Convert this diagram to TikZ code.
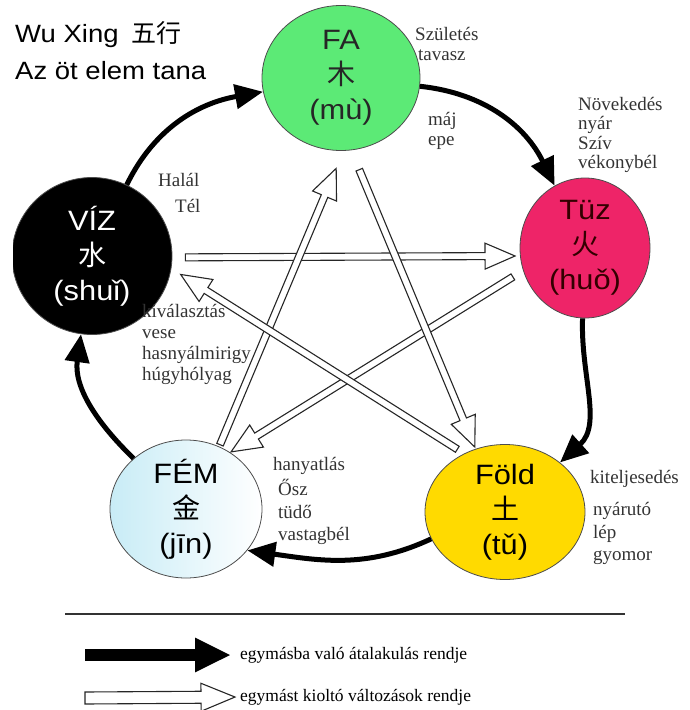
\documentclass[tikz,border=0pt]{standalone}
\usepackage{fontspec}
\setmainfont{Liberation Serif}
\setsansfont{Liberation Sans}[FakeStretch=1.1]
\newfontfamily\cjk{Noto Sans CJK SC}
\usetikzlibrary{shapes.geometric,arrows.meta,calc}

\definecolor{fagreen}{RGB}{92,234,118}
\definecolor{tuzpink}{RGB}{238,36,104}
\definecolor{foldyellow}{RGB}{255,218,0}
\definecolor{femblue}{RGB}{200,236,246}

% hollow arrow (kiolto valtozasok)
\newcommand{\kshaft}{3.5pt}
\newcommand{\khead}{13pt}
\newcommand{\klen}{30pt}
\newcommand{\kioltas}[4]{%
  \coordinate (ka) at ($(#1)!#3!(#2)$);
  \coordinate (kb) at ($(#2)!#4!(#1)$);
  \coordinate (kh) at ($(kb)!\klen!(ka)$);
  \draw[hollow] ($(ka)!\kshaft!90:(kb)$) -- ($(kh)!\kshaft!90:(kb)$)
    -- ($(kh)!\khead!90:(kb)$) -- (kb) -- ($(kh)!\khead!-90:(kb)$)
    -- ($(kh)!\kshaft!-90:(kb)$) -- ($(ka)!\kshaft!-90:(kb)$) -- cycle;
}

\begin{document}
\begin{tikzpicture}
    \tikzset{x=1pt,y=1pt,
      element/.style={ellipse,draw=black!70,line width=0.8pt,inner sep=-12pt,align=center,
        font=\sffamily\fontsize{28}{35}\selectfont},
      lbl/.style={anchor=base west,inner sep=0pt,font=\fontsize{19}{20}\selectfont,text=black!80},
      gen/.style={line width=5pt,-{Triangle[length=28pt,width=24pt]}},
      hollow/.style={draw=black!85,fill=white,line width=1.1pt,line join=miter}}
    \useasboundingbox (0,0) rectangle (689,-710);

    % title
    \node [anchor=base west,inner sep=0pt,font=\sffamily\fontsize{25}{30}\selectfont] (title1) at (15,-42) {Wu Xing\enspace{\cjk 五行}};
    \node [anchor=base west,inner sep=0pt,font=\sffamily\fontsize{25}{30}\selectfont] (title2) at (15,-79) {Az öt elem tana};

    % the five elements
    \node [element,fill=fagreen,text=black!85,minimum width=158pt,minimum height=145pt] (fa) at (341,-78) {FA\\{\cjk 木}\\(mù)};
    \node [element,fill=tuzpink,text=black!80!red,minimum width=130pt,minimum height=140pt] (tuz) at (585,-248) {Tüz\\{\cjk 火}\\(huǒ)};
    \begin{scope}
      \clip (13,0) rectangle (689,-710);
      \node [element,fill=black,text=white,minimum width=160pt,minimum height=157pt] (viz) at (92,-256) {VÍZ\\{\cjk 水}\\(shuǐ)};
    \end{scope}
    \node [element,left color=femblue,right color=white,minimum width=152pt,minimum height=138pt] (fem) at (186,-509) {FÉM\\{\cjk 金}\\(jīn)};
    \node [element,fill=foldyellow,minimum width=160pt,minimum height=135pt] (fold) at (505,-512) {Föld\\{\cjk 土}\\(tǔ)};

    % labels
    \node [lbl] (fa1) at (415,-40) {Születés};
    \node [lbl] (fa2) at (418,-60) {tavasz};
    \node [lbl] (fa3) at (428,-125) {máj};
    \node [lbl] (fa4) at (428,-145) {epe};
    \foreach \t [count=\i] in {Növekedés,nyár,Szív,vékonybél}
      \node [lbl] (tuz\i) at (578,-110-19.5*\i+19.5) {\t};
    \node [lbl] (viz1) at (158,-186) {Halál};
    \node [lbl] (viz2) at (175,-212) {Tél};
    \foreach \t [count=\i] in {kiválasztás,vese,hasnyálmirigy,húgyhólyag}
      \node [lbl] (viz\i b) at (142,-317-21*\i+21) {\t};
    \node [lbl] (fem1) at (273,-470) {hanyatlás};
    \node [lbl] (fem2) at (278,-495) {Ősz};
    \node [lbl] (fem3) at (278,-518) {tüdő};
    \node [lbl] (fem4) at (278,-540) {vastagbél};
    \node [lbl] (fold1) at (590,-483) {kiteljesedés};
    \node [lbl] (fold2) at (593,-515) {nyárutó};
    \node [lbl] (fold3) at (593,-538) {lép};
    \node [lbl] (fold4) at (593,-560) {gyomor};

    % hollow arrows
    \kioltas{viz.-1}{tuz.187}{13pt}{5pt}
    \kioltas{tuz.200}{fem.52}{12pt}{1pt}
    \kioltas{fem.62}{fa.-88}{2pt}{19pt}
    \kioltas{fa.-82}{fold.115}{21pt}{2pt}
    \kioltas{fold.125}{viz.-9}{8pt}{11pt}

    % black arrows
    \draw[gen] (viz) to[out=64,in=190] (fa);
    \draw[gen] (fa) to[out=-6,in=116] (tuz);
    \draw[gen] (tuz) to[out=268,in=42] (fold);
    \draw[gen] (fold.200) to[out=205,in=-8] (fem.-34);
    \draw[gen] (fem) to[out=136,in=262] (viz);

    % legend
    \draw[line width=1.2pt,black!80] (65,-614) coordinate (r1) -- (625,-614) coordinate (r2);
    \node [anchor=west,inner sep=0pt,font=\fontsize{17.5}{20}\selectfont] (lg1) at (240,-655) {egymásba való átalakulás rendje};
    \node [anchor=west,inner sep=0pt,font=\fontsize{17.5}{20}\selectfont] (lg2) at (240,-697) {egymást kioltó változások rendje};
    \coordinate (lgs1) at (85,-655);
    \coordinate (lgs2) at (85,-698);
    \draw[line width=12pt,-{Triangle[length=36pt,width=32pt]}] (lgs1) -- ([xshift=-9pt]lg1.west);
    \begin{scope}
      \def\kshaft{6pt}\def\khead{14pt}\def\klen{34pt}
      \kioltas{lgs2}{lg2.west}{0pt}{5pt}
    \end{scope}
\end{tikzpicture}
\end{document}
